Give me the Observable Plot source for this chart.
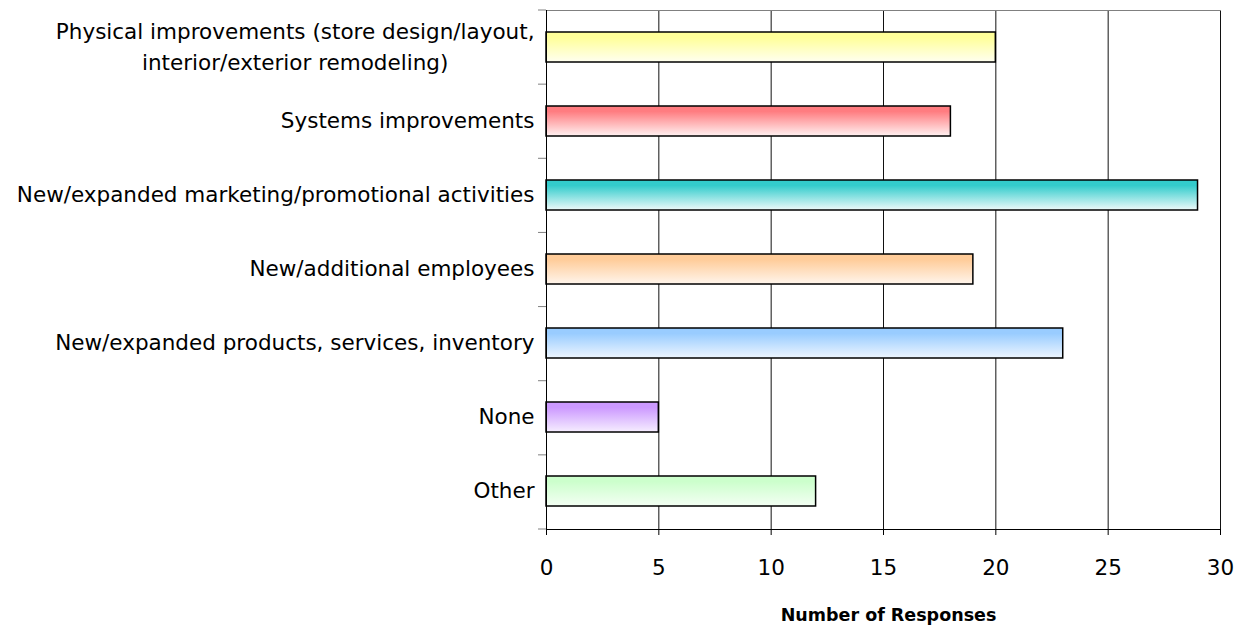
<!DOCTYPE html>
<html><head><meta charset="utf-8">
<script src="https://cdn.jsdelivr.net/npm/d3@7"></script>
<script src="https://cdn.jsdelivr.net/npm/@observablehq/plot@0.6"></script>
<style>body{margin:0;background:#fff} #chart{position:relative;width:1241px;height:626px}</style>
</head><body><div id="chart"></div>
<script>
const categories = [
  "Physical improvements (store design/layout, interior/exterior remodeling)",
  "Systems improvements",
  "New/expanded marketing/promotional activities",
  "New/additional employees",
  "New/expanded products, services, inventory",
  "None",
  "Other"
];
const categoryLabels = [
  "Physical improvements (store design/layout,\ninterior/exterior remodeling)",
  "Systems improvements",
  "New/expanded marketing/promotional activities",
  "New/additional employees",
  "New/expanded products, services, inventory",
  "None",
  "Other"
];
const values = [20, 18, 29, 19, 23, 5, 12];
const topColors = ["#ffff99", "#ff7c80", "#33cccc", "#ffcc99", "#99ccff", "#cc99ff", "#ccffcc"];
const bottomColors = ["#fffff0", "#fff2f2", "#eefafa", "#fff5ec", "#eef6ff", "#f6eeff", "#f4fff4"];
const xTicks = [0, 5, 10, 15, 20, 25, 30];
const xLabel = "Number of Responses";

const FONT = "DejaVu Sans";
const data = categories.map((c, i) => ({category: c, value: values[i]}));
const gradUrls = categories.map((c, i) => `url(#grad${i})`);

function gradients() {
  const defs = d3.create("svg:defs");
  categories.forEach((c, i) => {
    const g = defs.append("linearGradient").attr("id", `grad${i}`)
      .attr("x1", 0).attr("y1", 0).attr("x2", 0).attr("y2", 1);
    g.append("stop").attr("offset", "0%").attr("stop-color", topColors[i]);
    g.append("stop").attr("offset", "18%").attr("stop-color", topColors[i]);
    g.append("stop").attr("offset", "100%").attr("stop-color", bottomColors[i]);
  });
  return defs.node();
}

function bandTicks(index, scales, vals, dims) {
  const n = categories.length;
  const top = dims.marginTop, bottom = dims.height - dims.marginBottom;
  const step = (bottom - top) / n;
  const x0 = dims.marginLeft;
  const g = d3.create("svg:g").attr("stroke", "#808080").attr("stroke-width", 1);
  for (let k = 0; k <= n; k++) {
    const yy = top + k * step;
    g.append("line").attr("x1", x0 - 8).attr("x2", x0).attr("y1", yy).attr("y2", yy);
  }
  return g.node();
}

const chart = Plot.plot({
  width: 1241,
  height: 626,
  marginLeft: 546,
  marginRight: 21,
  marginTop: 10,
  marginBottom: 97,
  style: {fontFamily: FONT, color: "black", background: "white"},
  x: {domain: [0, 30]},
  y: {domain: categories, paddingInner: 0.59, paddingOuter: 0.295},
  color: {domain: categories, range: gradUrls},
  marks: [
    gradients,
    Plot.gridX(xTicks, {stroke: "#111", strokeOpacity: 1, strokeWidth: 1}),
    Plot.frame({anchor: "top", stroke: "#808080"}),
    Plot.barX(data, {x: "value", y: "category", fill: "category", stroke: "black", strokeWidth: 1.5}),
    Plot.frame({anchor: "bottom", stroke: "black"}),
    Plot.ruleX([0], {stroke: "black"}),
    bandTicks,
    Plot.axisY({label: null, tickSize: 0, tickPadding: 12, fontSize: 21.5, lineHeight: 1.45, dy: -3,
      tickFormat: d => categoryLabels[categories.indexOf(d)]}),
    Plot.axisX({ticks: xTicks, tickSize: 6, tickPadding: 24, fontSize: 21.5, label: null, stroke: "black"}),
    Plot.text([xLabel], {frameAnchor: "bottom", dx: 5, dy: 91, fontWeight: "bold", fontSize: 17.5})
  ]
});
document.getElementById("chart").appendChild(chart);

// center the multi-line label block like the original
d3.select(chart).selectAll('g[aria-label="y-axis tick label"] text').each(function() {
  const tspans = this.querySelectorAll("tspan");
  if (tspans.length > 1) {
    const w = this.getBBox().width;
    this.setAttribute("text-anchor", "middle");
    tspans.forEach(t => t.setAttribute("x", -w / 2));
  }
});
</script>
</body></html>
